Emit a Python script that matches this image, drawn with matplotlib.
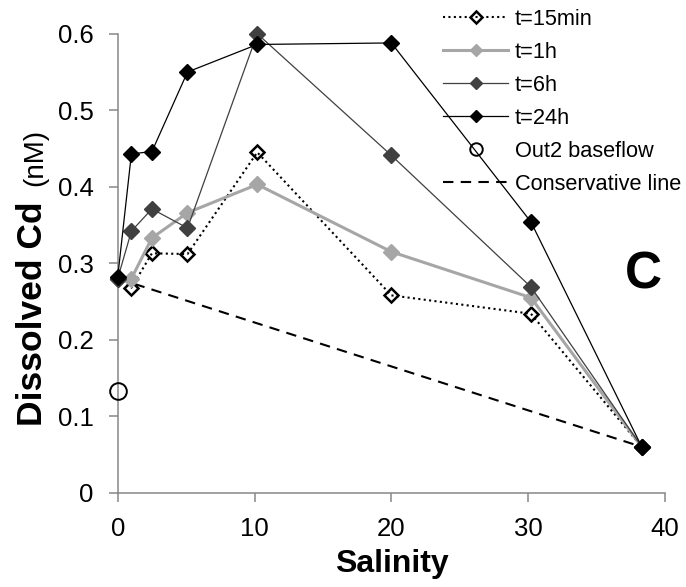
import numpy as np
import matplotlib
matplotlib.use("Agg")
import matplotlib.pyplot as plt

plt.rcParams['font.family'] = ['Liberation Sans', 'DejaVu Sans']

#-----Data: dissolved Cd (nM) vs salinity-----#
salinity = [0, 1.0, 2.5, 5.1, 10.2, 20.0, 30.2, 38.3]
cd_15min = [0.280, 0.268, 0.313, 0.312, 0.445, 0.258, 0.234, 0.060]
cd_1h = [0.280, 0.280, 0.333, 0.366, 0.403, 0.315, 0.255, 0.060]
cd_6h = [0.280, 0.342, 0.371, 0.346, 0.600, 0.441, 0.269, 0.060]
cd_24h = [0.282, 0.443, 0.446, 0.550, 0.586, 0.588, 0.354, 0.060]

baseflow_sal = [0]
baseflow_cd = [0.133]

cons_sal = [0, 38.3]
cons_cd = [0.280, 0.060]

xticks = [0, 10, 20, 30, 40]
yticks = [0, 0.1, 0.2, 0.3, 0.4, 0.5, 0.6]
ytick_labels = ['0', '0.1', '0.2', '0.3', '0.4', '0.5', '0.6']

#-----Figure-----#
fig = plt.figure(figsize=(6.86, 5.87), dpi=100)
ax = fig.add_axes([0.1716, 0.1606, 0.7978, 0.7819])

ax.plot(salinity, cd_15min, color='black', linestyle=(0, (1, 1.6)), lw=1.5,
        marker='D', ms=7.5, mfc='none', mec='black', mew=1.8,
        label='t=15min', clip_on=False, zorder=3)
ax.plot(salinity, cd_1h, color='#a6a6a6', lw=2.2,
        marker='D', ms=8, mfc='#a6a6a6', mec='#a6a6a6',
        label='t=1h', clip_on=False, zorder=4)
ax.plot(salinity, cd_6h, color='#404040', lw=0.9,
        marker='D', ms=8, mfc='#404040', mec='#404040',
        label='t=6h', clip_on=False, zorder=5)
ax.plot(salinity, cd_24h, color='black', lw=0.9,
        marker='D', ms=8, mfc='black', mec='black',
        label='t=24h', clip_on=False, zorder=6)
ax.plot(baseflow_sal, baseflow_cd, linestyle='none', marker='o', ms=12,
        mfc='none', mec='black', mew=1.4, label='Out2 baseflow',
        clip_on=False, zorder=6)
ax.plot(cons_sal, cons_cd, color='black', lw=1.5, linestyle=(0, (5, 3.5)),
        label='Conservative line', zorder=2)

#-----Axes styling-----#
ax.set_xlim(0, 40)
ax.set_ylim(0, 0.6)
ax.set_xticks(xticks)
ax.set_yticks(yticks)
ax.set_yticklabels(ytick_labels)
for s in ['top', 'right']:
    ax.spines[s].set_visible(False)
for s in ['left', 'bottom']:
    ax.spines[s].set_color('#888888')
    ax.spines[s].set_linewidth(1.1)
ax.tick_params(axis='both', direction='out', length=6.5, width=1.1,
               color='#888888', labelsize=18.5)
ax.tick_params(axis='x', pad=11)
ax.tick_params(axis='y', pad=11)

ax.set_xlabel('Salinity', fontsize=23, fontweight='bold', labelpad=5.5)
fig.text(0.061, 0.466, 'Dissolved Cd', fontsize=25.5, fontweight='bold',
         rotation=90, rotation_mode='anchor', ha='center', va='baseline')
fig.text(0.061, 0.731, '(nM)', fontsize=20, rotation=90,
         rotation_mode='anchor', ha='center', va='baseline')

ax.text(0.96, 0.444, 'C', transform=ax.transAxes, fontsize=37,
        fontweight='bold', ha='center', va='baseline')

ax.legend(loc='upper left', bbox_to_anchor=(0.6458, 0.9847),
          bbox_transform=fig.transFigure, frameon=False, fontsize=15.7,
          borderpad=0, borderaxespad=0, handlelength=3.0,
          handletextpad=0.3, labelspacing=0.55, numpoints=1,
          markerscale=0.75)

fig.savefig('out.png', dpi=100)
